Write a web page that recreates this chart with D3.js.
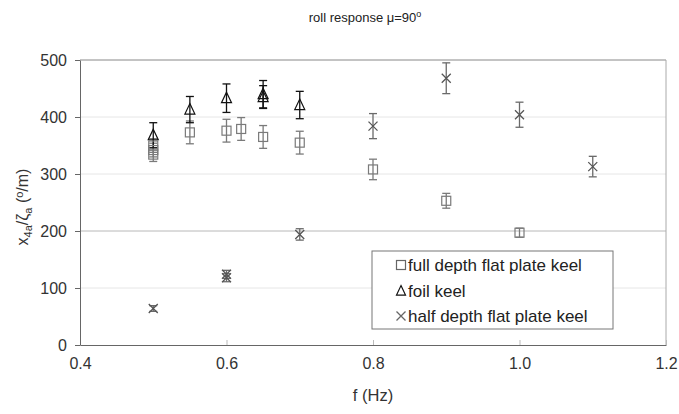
<!DOCTYPE html>
<html><head><meta charset="utf-8">
<script src="https://cdn.jsdelivr.net/npm/d3@7"></script>
<style>body{margin:0;background:#fff;} text{font-family:Arial,"Liberation Sans",sans-serif;}</style>
</head><body>
<svg id="c" width="679" height="414"></svg>
<script>
// Data (frequency Hz, response °/m, error)
const fullF   = [0.5, 0.5, 0.5, 0.55, 0.6, 0.62, 0.65, 0.7, 0.8, 0.9, 1.0];
const fullV   = [350, 342, 334, 373, 376, 379, 365, 355, 308, 253, 197];
const fullE   = [12, 12, 12, 20, 20, 20, 20, 20, 18, 13, 8];
const foilF   = [0.5, 0.55, 0.6, 0.65, 0.65, 0.7];
const foilV   = [368, 413, 433, 440, 435, 421];
const foilE   = [22, 23, 25, 24, 20, 24];
const halfF   = [0.5, 0.6, 0.6, 0.7, 0.8, 0.9, 1.0, 1.1];
const halfV   = [64, 118, 124, 194, 384, 468, 404, 313];
const halfE   = [5, 7, 7, 10, 22, 27, 22, 18];
const xTicks  = [0.4, 0.6, 0.8, 1.0, 1.2];
const yTicks  = [0, 100, 200, 300, 400, 500];
const seriesNames = ["full depth flat plate keel", "foil keel", "half depth flat plate keel"];

const svg = d3.select("#c");
const L = 80, R = 666, T = 60, B = 345;
const x = d3.scaleLinear().domain([0.4, 1.2]).range([L, R]);
const y = d3.scaleLinear().domain([0, 500]).range([B, T]);

// gridlines
svg.append("g").selectAll("line").data(yTicks.filter(d => d > 0 && d < 500)).join("line")
  .attr("x1", L).attr("x2", R).attr("y1", d => y(d)).attr("y2", d => y(d))
  .attr("stroke", d => d === 200 ? "#b8b8b8" : "#e6e6e6").attr("stroke-width", 1);
// frame top/right
svg.append("line").attr("x1", L).attr("x2", R).attr("y1", y(500)).attr("y2", y(500)).attr("stroke", "#888");
svg.append("line").attr("x1", R).attr("x2", R).attr("y1", T).attr("y2", B).attr("stroke", "#aaa");

// axes
const xa = svg.append("g").attr("transform", `translate(0,${B})`)
  .call(d3.axisBottom(x).tickValues(xTicks).tickFormat(d3.format(".1f")).tickSize(5).tickSizeOuter(0));
xa.select(".domain").attr("stroke", "#666");
xa.selectAll(".tick line").attr("stroke", "#bbb").attr("y1", -5).attr("y2", 0);
xa.selectAll("text").attr("font-size", 16).attr("fill", "#333").attr("y", 10).attr("dy", "0.9em");

const ya = svg.append("g").attr("transform", `translate(${L},0)`)
  .call(d3.axisLeft(y).tickValues(yTicks).tickSize(5).tickSizeOuter(0));
ya.select(".domain").attr("stroke", "#666");
ya.selectAll(".tick line").attr("stroke", "#666");
ya.selectAll("text").attr("font-size", 16).attr("fill", "#333").attr("x", -13);

// titles
svg.append("text").attr("x", 365).attr("y", 22).attr("text-anchor", "middle")
  .attr("font-size", 13).attr("fill", "#222")
  .html('roll response <tspan>μ</tspan>=90<tspan dy="-5" font-size="9">o</tspan>');
svg.append("text").attr("x", 373).attr("y", 401).attr("text-anchor", "middle")
  .attr("font-size", 16.5).attr("fill", "#333").text("f (Hz)");
const yl = svg.append("text").attr("transform", "translate(28,207) rotate(-90)")
  .attr("text-anchor", "middle").attr("font-size", 16).attr("fill", "#333");
yl.append("tspan").text("x");
yl.append("tspan").attr("font-size", 11).attr("dy", 4).text("4a");
yl.append("tspan").attr("dy", -4).text("/ζ");
yl.append("tspan").attr("font-size", 11).attr("dy", 4).text("a");
yl.append("tspan").attr("dy", -4).text(" (");
yl.append("tspan").attr("font-size", 11).attr("dy", -5).text("o");
yl.append("tspan").attr("dy", 5).text("/m)");

function errBars(F, V, E, color) {
  const g = svg.append("g").attr("stroke", color).attr("stroke-width", 1.3).attr("fill", "none");
  F.forEach((f, i) => {
    const cx = x(f), y1 = y(V[i] - E[i]), y2 = y(V[i] + E[i]);
    g.append("line").attr("x1", cx).attr("x2", cx).attr("y1", y1).attr("y2", y2);
    g.append("line").attr("x1", cx - 4).attr("x2", cx + 4).attr("y1", y1).attr("y2", y1);
    g.append("line").attr("x1", cx - 4).attr("x2", cx + 4).attr("y1", y2).attr("y2", y2);
  });
}
errBars(fullF, fullV, fullE, "#7a7a7a");
errBars(foilF, foilV, foilE, "#111");
errBars(halfF, halfV, halfE, "#6a6a6a");

function square(g, cx, cy, s, c) {
  g.append("rect").attr("x", cx - s/2).attr("y", cy - s/2).attr("width", s).attr("height", s)
    .attr("fill", "none").attr("stroke", c).attr("stroke-width", 1.2);
}
function tri(g, cx, cy, s, c) {
  g.append("path").attr("d", `M${cx},${cy - s*0.6}L${cx + s/2},${cy + s*0.45}L${cx - s/2},${cy + s*0.45}Z`)
    .attr("fill", "none").attr("stroke", c).attr("stroke-width", 1.2);
}
function cross(g, cx, cy, s, c) {
  g.append("path").attr("d", `M${cx - s/2},${cy - s/2}L${cx + s/2},${cy + s/2}M${cx - s/2},${cy + s/2}L${cx + s/2},${cy - s/2}`)
    .attr("stroke", c).attr("stroke-width", 1.3);
}
const mg = svg.append("g");
fullF.forEach((f, i) => square(mg, x(f), y(fullV[i]), 9, "#7a7a7a"));
foilF.forEach((f, i) => tri(mg, x(f), y(foilV[i]), 10, "#111"));
halfF.forEach((f, i) => cross(mg, x(f), y(halfV[i]), 9, "#555"));

// legend
const lg = svg.append("g");
lg.append("rect").attr("x", 372).attr("y", 251).attr("width", 241).attr("height", 78)
  .attr("fill", "#fff").attr("stroke", "#777").attr("stroke-width", 1);
const rows = [265, 291, 316];
const markFns = [square, tri, cross];
const markCols = ["#666", "#111", "#666"];
seriesNames.forEach((n, i) => {
  markFns[i](lg, 401, rows[i], 9, markCols[i]);
  lg.append("text").attr("x", 408).attr("y", rows[i] + 6).attr("font-size", 17)
    .attr("fill", "#222").text(n);
});
</script>
</body></html>
